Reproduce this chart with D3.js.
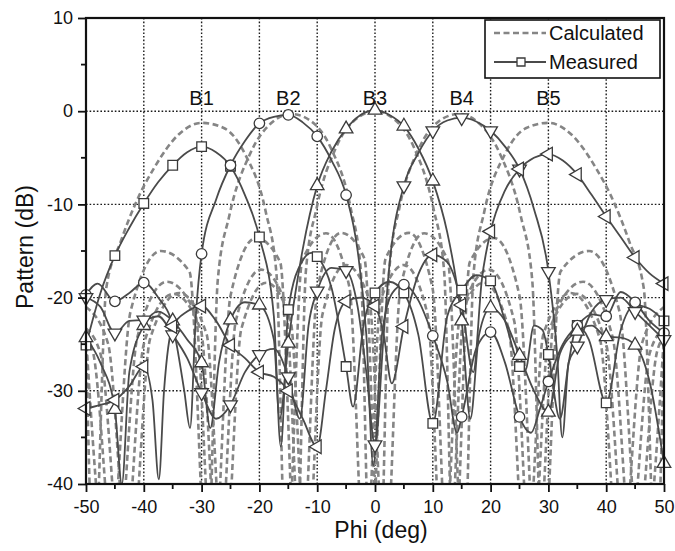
<!DOCTYPE html>
<html>
<head>
<meta charset="utf-8">
<script src="https://cdn.jsdelivr.net/npm/d3@7"></script>
<style>
  html, body { margin: 0; padding: 0; background: #fff; }
  svg { display: block; }
  text { font-family: "Liberation Sans", Arial, sans-serif; fill: #111; }
</style>
</head>
<body>
<svg id="chart" width="675" height="551"></svg>
<script>
// ---- beam labels and pointing angles ----
const beamNames = ["B1", "B2", "B3", "B4", "B5"];
const beamAngles = [-30, -15, 0, 15, 30];

// ---- axis ticks ----
const xTicks = [-50, -40, -30, -20, -10, 0, 10, 20, 30, 40, 50];
const yTicks = [10, 0, -10, -20, -30, -40];

// ---- calculated patterns [phi (deg), pattern (dB)] ----
const calcB1 = [[-50,-24],[-48.6,-50],[-46.5,-19],[-44,-14],[-41.5,-10],[-38.13,-6.0],[-33.98,-2.5],[-30,-1.25],[-26.17,-1.8],[-22.49,-4.6],[-18.9,-10.8],[-17.04,-17.5],[-15.37,-50],[-12.59,-16.0],[-8.48,-13.1],[-4.42,-18.9],[-1.72,-50],[0.97,-20.3],[5.02,-16.5],[9.09,-21.8],[11.83,-50],[14.6,-22.5],[18.81,-18.4],[23.14,-23.4],[26.1,-50],[29.14,-23.9],[33.88,-19.5],[38.9,-24.4],[42.45,-50],[46.2,-24.9],[50,-21.0]];
const calcB2 = [[-50,-24.1],[-46.05,-50],[-42.3,-21.5],[-37.05,-15.0],[-32.1,-17.2],[-29.0,-50],[-27.2,-18.1],[-25.2,-11.2],[-21.56,-4.5],[-18.0,-1.3],[-14.48,-0.3],[-11.0,-1.1],[-7.6,-4.0],[-4.24,-10.3],[-2.46,-17.1],[-0.86,-50],[1.83,-15.8],[5.88,-13.05],[9.96,-19.0],[12.71,-50],[15.49,-20.6],[19.72,-17.0],[24.08,-22.5],[27.07,-50],[30.13,-23.5],[34.93,-19.6],[40.0,-25.0],[43.63,-50],[47.47,-26.1],[50,-23.3]];
const calcB3 = [[-50,-24.2],[-48.8,-25.8],[-44.8,-50],[-41.1,-24.2],[-36.0,-18.3],[-31.1,-21.7],[-28.0,-50],[-25.0,-19.8],[-20.6,-13.6],[-16.4,-16.2],[-13.6,-50],[-11.95,-17.1],[-10.1,-10.4],[-6.75,-3.9],[-3.4,-0.9],[0,0],[3.4,-0.9],[6.75,-3.9],[10.1,-10.4],[11.95,-17.1],[13.6,-50],[16.4,-16.2],[20.6,-13.6],[25.0,-19.8],[28.0,-50],[31.1,-21.7],[36.0,-18.3],[41.1,-24.2],[44.8,-50],[48.8,-25.8],[50,-24.2]];
const calcB4 = [[-50,-23.3],[-47.47,-26.1],[-43.63,-50],[-40.0,-25.0],[-34.93,-19.6],[-30.13,-23.5],[-27.07,-50],[-24.08,-22.5],[-19.72,-17.0],[-15.49,-20.6],[-12.71,-50],[-9.96,-19.0],[-5.88,-13.05],[-1.83,-15.8],[0.86,-50],[2.46,-17.1],[4.24,-10.3],[7.6,-4.0],[11.0,-1.1],[14.48,-0.3],[18.0,-1.3],[21.56,-4.5],[25.2,-11.2],[27.2,-18.1],[29.0,-50],[32.1,-17.2],[37.05,-15.0],[42.3,-21.5],[46.05,-50],[50,-24.1]];
const calcB5 = [[-50,-21.0],[-46.2,-24.9],[-42.45,-50],[-38.9,-24.4],[-33.88,-19.5],[-29.14,-23.9],[-26.1,-50],[-23.14,-23.4],[-18.81,-18.4],[-14.6,-22.5],[-11.83,-50],[-9.09,-21.8],[-5.02,-16.5],[-0.97,-20.3],[1.72,-50],[4.42,-18.9],[8.48,-13.1],[12.59,-16.0],[15.37,-50],[17.04,-17.5],[18.9,-10.8],[22.49,-4.6],[26.17,-1.8],[30,-1.25],[33.98,-2.5],[38.13,-6.0],[41.5,-10],[44,-14],[46.5,-19],[48.6,-50],[50,-24]];

// ---- measured patterns [phi (deg), pattern (dB)] ----
const measB1 = [[-50,-25.1],[-47.5,-19.5],[-45,-15.5],[-42.5,-12.5],[-40,-9.9],[-37.5,-7.6],[-35,-5.8],[-32.5,-4.4],[-30,-3.8],[-27.5,-4.4],[-25,-5.9],[-22.5,-9],[-20,-13.5],[-17.5,-22],[-16.3,-36],[-15,-21.3],[-12.5,-16],[-11,-15.2],[-10,-15.6],[-7.5,-19],[-5,-27.4],[-3.8,-31.7],[-2,-23],[0,-19.5],[2.5,-18.3],[5,-19.5],[7.5,-24],[10,-33.5],[12.5,-22],[15,-19.2],[17.5,-17.6],[20,-18.2],[22.5,-22.5],[25,-27.4],[26,-27.8],[27.5,-23],[29,-23.5],[30,-26.1],[32,-33],[33.5,-27],[35,-23],[37,-24.5],[40,-31.3],[42.5,-23.5],[45,-20.8],[47.5,-21.2],[50,-22.5]];
const measB2 = [[-50,-19.7],[-48,-18.5],[-45,-20.4],[-42.5,-19.5],[-40,-18.4],[-37.5,-20],[-35,-23],[-33,-30],[-32,-34],[-31,-22],[-30,-15.3],[-27.5,-9.5],[-25,-5.8],[-22.5,-3.2],[-20,-1.3],[-17.5,-0.6],[-15,-0.4],[-12.5,-1.2],[-10,-2.7],[-7.5,-5.3],[-5,-9.0],[-3,-15],[-1.5,-24],[-0.3,-38],[1.2,-24],[3,-19.5],[5,-18.6],[7.5,-20.3],[10,-24.1],[12.5,-29],[14.2,-34.5],[15,-32.8],[17.5,-25.5],[20,-23.7],[22.5,-27],[25,-32.8],[27,-34.5],[28.5,-32],[30,-29],[32.5,-25],[35,-23],[37.5,-21.8],[40,-22],[42.5,-19.4],[45,-20.5],[47.5,-22.5],[50,-23.8]];
const measB3 = [[-50,-24.3],[-47.5,-27],[-45,-32],[-43.8,-40],[-42.5,-28],[-40,-23],[-37.5,-21.5],[-35,-22.5],[-32.5,-24.5],[-30,-27],[-28.5,-34],[-27,-27],[-25,-22.4],[-22.5,-20.5],[-20,-20.8],[-17.5,-24.5],[-16.5,-33],[-15,-24.9],[-12.5,-14.8],[-10,-8.0],[-7.5,-4.3],[-5,-1.9],[-2.5,-0.4],[0,0.1],[2.5,-0.4],[5,-1.6],[7.5,-4.0],[10,-7.5],[12.5,-13],[14,-18],[15,-22.5],[16.5,-33],[18,-24],[20,-21.1],[22.5,-22.5],[25,-26.2],[27.5,-30],[30,-32.3],[32,-26],[35,-23.6],[37.5,-23],[40,-24.2],[42.5,-24.3],[45,-25.1],[47.5,-29],[50,-37.8]];
const measB4 = [[-50,-20],[-47.5,-21],[-45,-23.8],[-42.5,-22.5],[-40,-22.4],[-37.5,-22],[-35,-24],[-32.5,-26.5],[-30,-30.2],[-27.5,-33],[-25,-31.5],[-22.5,-28],[-20,-26.1],[-17.5,-25.5],[-15,-28.5],[-13,-33],[-11.5,-23],[-10,-19.3],[-7.5,-16.8],[-5,-17.1],[-3,-21],[-1.5,-28],[0,-35.8],[1.5,-24],[2.5,-16.5],[5,-8.0],[7.5,-4.5],[10,-2.1],[12.5,-1.0],[15,-0.7],[17.5,-1.1],[20,-2.1],[22.5,-3.8],[25,-6.2],[27.5,-10.5],[30,-17.2],[31.5,-26],[32.4,-35],[33.5,-27],[35,-25.2],[37.5,-21.5],[40,-20.2],[42.5,-20],[45,-21.5],[47.5,-23],[50,-24.5]];
const measB5 = [[-50,-31.9],[-47.5,-31.5],[-45,-31],[-42.5,-29.5],[-40,-27.4],[-38.5,-31],[-37.4,-39.5],[-36.5,-30],[-35,-23.1],[-32.5,-21.5],[-30,-20.9],[-27.5,-22.5],[-25,-25.1],[-22.5,-26.5],[-20,-28],[-17.5,-28.5],[-15,-30],[-12.5,-33],[-10,-36],[-8.5,-30],[-7,-23.5],[-5,-20.4],[-2.5,-20],[0,-20.9],[1.5,-24],[2.9,-29.2],[5,-23.1],[7.5,-17.5],[10,-15.4],[12.5,-16.2],[15,-20.8],[17,-28],[18.5,-18],[20,-12.9],[22.5,-8.5],[25,-6.2],[27.5,-5],[30,-4.6],[32.5,-5.3],[35,-6.8],[37.5,-9],[40,-11.3],[42.5,-13.5],[45,-15.7],[47.5,-17.4],[50,-18.5]];

const calcSeries = [calcB1, calcB2, calcB3, calcB4, calcB5];
const measSeries = [
  { data: measB1, symbol: d3.symbolSquare, rotate: 0, size: 92 },
  { data: measB2, symbol: d3.symbolCircle, rotate: 0, size: 86 },
  { data: measB3, symbol: d3.symbolTriangle, rotate: 0, size: 80 },
  { data: measB4, symbol: d3.symbolTriangle, rotate: 180, size: 80 },
  { data: measB5, symbol: d3.symbolTriangle, rotate: -90, size: 80 }
];

// ---- layout ----
const plot = { left: 86, top: 18, right: 664, bottom: 484 };
const svg = d3.select("#chart");

const x = d3.scaleLinear().domain([-50, 50]).range([plot.left, plot.right]);
const y = d3.scaleLinear().domain([-40, 10]).range([plot.bottom, plot.top]);

svg.append("defs").append("clipPath").attr("id", "plotClip")
  .append("rect")
  .attr("x", plot.left).attr("y", plot.top)
  .attr("width", plot.right - plot.left).attr("height", plot.bottom - plot.top);

// dotted grid
const grid = svg.append("g").attr("class", "grid");
grid.selectAll("line.gx").data(xTicks.filter(t => t > -50 && t < 50)).join("line")
  .attr("x1", d => x(d)).attr("x2", d => x(d))
  .attr("y1", plot.top).attr("y2", plot.bottom)
  .attr("stroke", "#1a1a1a").attr("stroke-width", 1.4).attr("stroke-dasharray", "1.6,2");
grid.selectAll("line.gy").data(yTicks.filter(t => t > -40 && t < 10)).join("line")
  .attr("y1", d => y(d)).attr("y2", d => y(d))
  .attr("x1", plot.left).attr("x2", plot.right)
  .attr("stroke", "#1a1a1a").attr("stroke-width", 1.4).attr("stroke-dasharray", "1.6,2");

const line = d3.line()
  .x(d => x(d[0]))
  .y(d => y(d[1]))
  .curve(d3.curveMonotoneX);

const curves = svg.append("g").attr("clip-path", "url(#plotClip)");

// calculated (dashed)
curves.selectAll("path.calc").data(calcSeries).join("path")
  .attr("class", "calc")
  .attr("d", line)
  .attr("fill", "none")
  .attr("stroke", "#858585")
  .attr("stroke-width", 2.6)
  .attr("stroke-dasharray", "6,3.5");

// measured (solid)
curves.selectAll("path.meas").data(measSeries).join("path")
  .attr("class", "meas")
  .attr("d", d => line(d.data))
  .attr("fill", "none")
  .attr("stroke", "#4a4a4a")
  .attr("stroke-width", 1.8);

// markers every 5 degrees
const markerLayer = svg.append("g");
measSeries.forEach(s => {
  const pts = s.data.filter(d => Math.abs(d[0] / 5 - Math.round(d[0] / 5)) < 1e-6 && d[1] >= -40);
  markerLayer.selectAll(null).data(pts).join("path")
    .attr("d", d3.symbol().type(s.symbol).size(s.size))
    .attr("transform", d => `translate(${x(d[0])},${y(d[1])}) rotate(${s.rotate})`)
    .attr("fill", "#fff")
    .attr("stroke", "#3a3a3a")
    .attr("stroke-width", 1.3);
});

// axes
const fmt = d => String(d);
const xAxis = d3.axisBottom(x).tickValues(xTicks).tickSize(8).tickPadding(8).tickFormat(fmt);
const yAxis = d3.axisLeft(y).tickValues(yTicks).tickSize(8).tickPadding(5).tickFormat(fmt);

const gx = svg.append("g").attr("transform", `translate(0,${plot.bottom})`).call(xAxis);
const gy = svg.append("g").attr("transform", `translate(${plot.left},0)`).call(yAxis);
[gx, gy].forEach(g => {
  g.select(".domain").remove();
  g.selectAll(".tick line").attr("stroke", "#111").attr("stroke-width", 1.8);
  g.selectAll(".tick text").attr("font-size", 18).attr("fill", "#111")
    .attr("font-family", "Liberation Sans, Arial, sans-serif");
});

// minor ticks
const xMinor = d3.range(-45, 50, 10);
const yMinor = d3.range(5, -40, -10);
svg.append("g").selectAll("line").data(xMinor).join("line")
  .attr("x1", d => x(d)).attr("x2", d => x(d))
  .attr("y1", plot.bottom).attr("y2", plot.bottom + 5)
  .attr("stroke", "#111").attr("stroke-width", 1.8);
svg.append("g").selectAll("line").data(yMinor).join("line")
  .attr("y1", d => y(d)).attr("y2", d => y(d))
  .attr("x1", plot.left).attr("x2", plot.left - 5)
  .attr("stroke", "#111").attr("stroke-width", 1.8);

// frame
svg.append("rect")
  .attr("x", plot.left).attr("y", plot.top)
  .attr("width", plot.right - plot.left).attr("height", plot.bottom - plot.top)
  .attr("fill", "none").attr("stroke", "#111").attr("stroke-width", 2.2);

// beam labels
svg.append("g").selectAll("text").data(beamNames).join("text")
  .attr("x", (d, i) => x(beamAngles[i]))
  .attr("y", y(0) - 6)
  .attr("text-anchor", "middle")
  .attr("font-size", 20)
  .text(d => d);

// axis titles
svg.append("text")
  .attr("x", (plot.left + plot.right) / 2 + 6)
  .attr("y", 538)
  .attr("text-anchor", "middle")
  .attr("font-size", 23)
  .text("Phi (deg)");
svg.append("text")
  .attr("transform", "translate(33,247) rotate(-90)")
  .attr("text-anchor", "middle")
  .attr("font-size", 23)
  .text("Pattern (dB)");

// legend
const lg = svg.append("g");
lg.append("rect").attr("x", 485).attr("y", 20).attr("width", 175).attr("height", 58)
  .attr("fill", "#fff").attr("stroke", "#111").attr("stroke-width", 1.6);
lg.append("line").attr("x1", 494).attr("x2", 546).attr("y1", 33).attr("y2", 33)
  .attr("stroke", "#858585").attr("stroke-width", 2.6).attr("stroke-dasharray", "6,3.5");
lg.append("text").attr("x", 549).attr("y", 40).attr("font-size", 20).text("Calculated");
lg.append("line").attr("x1", 494).attr("x2", 546).attr("y1", 62).attr("y2", 62)
  .attr("stroke", "#4a4a4a").attr("stroke-width", 1.8);
lg.append("path").attr("d", d3.symbol().type(d3.symbolSquare).size(64))
  .attr("transform", "translate(521,62)")
  .attr("fill", "#fff").attr("stroke", "#3a3a3a").attr("stroke-width", 1.3);
lg.append("text").attr("x", 549).attr("y", 69).attr("font-size", 20).text("Measured");
</script>
</body>
</html>
